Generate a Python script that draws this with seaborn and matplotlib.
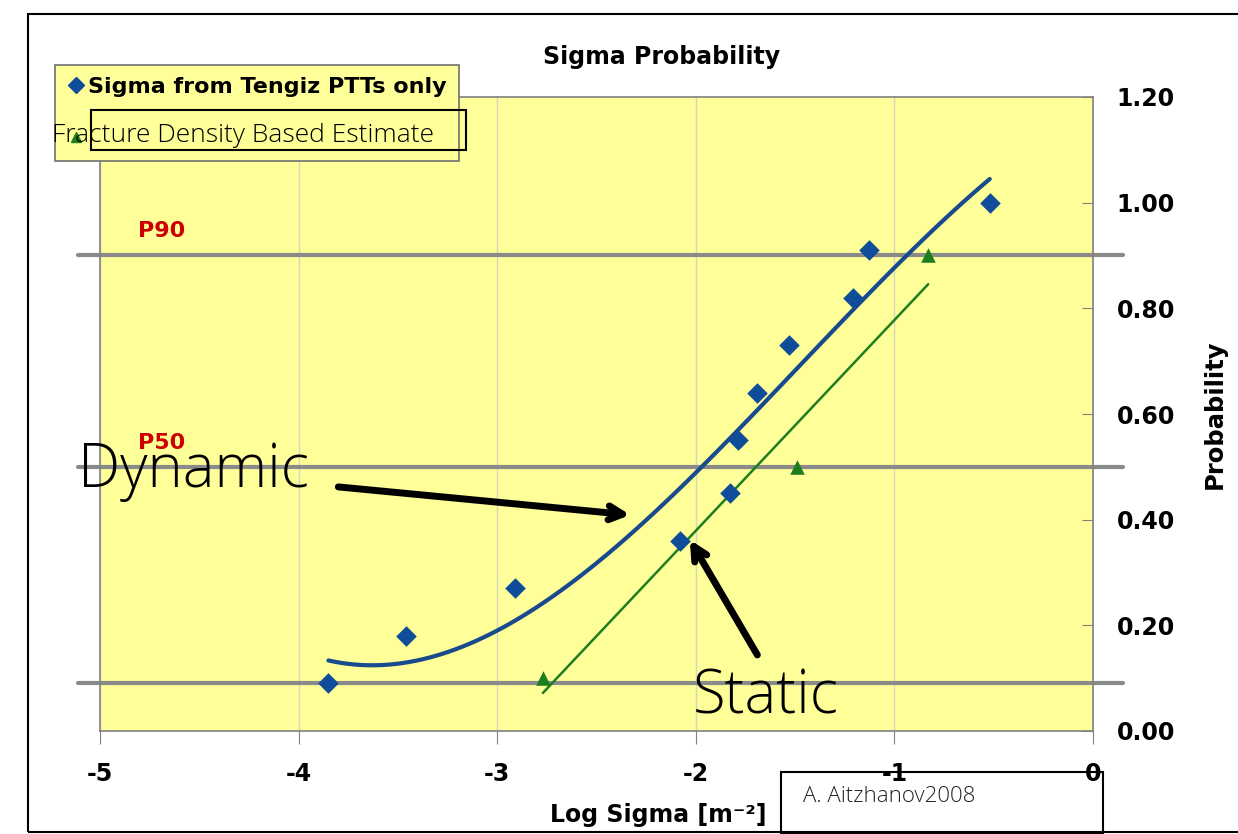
import numpy as np
import pandas as pd
import matplotlib
matplotlib.use("Agg")
import matplotlib.pyplot as plt
import seaborn as sns
from matplotlib.patches import Rectangle
from matplotlib.lines import Line2D

# ---- data ----
ptt_log_sigma = [-3.85, -3.46, -2.91, -2.08, -1.83, -1.79, -1.69, -1.53, -1.21, -1.13, -0.52]
ptt_prob = [0.09, 0.18, 0.27, 0.36, 0.45, 0.55, 0.64, 0.73, 0.82, 0.91, 1.00]
frac_log_sigma = [-2.77, -1.49, -0.83]
frac_prob = [0.10, 0.50, 0.90]
p_levels = [0.09, 0.50, 0.90]
p_names = ["P50", "P90"]
p_name_levels = [0.50, 0.90]
x_ticks = [-5, -4, -3, -2, -1, 0]
y_ticks = [0.0, 0.2, 0.4, 0.6, 0.8, 1.0, 1.2]

ptt = pd.DataFrame({"x": ptt_log_sigma, "y": ptt_prob})
frac = pd.DataFrame({"x": frac_log_sigma, "y": frac_prob})

sns.set_style("white")
plt.rcParams["font.family"] = ["DejaVu Sans"]
plt.rcParams["font.weight"] = "bold"
for k in ["text.color", "axes.labelcolor", "xtick.labelcolor", "ytick.labelcolor"]:
    plt.rcParams[k] = "black"

W, H = 1238, 834
fig = plt.figure(figsize=(W / 100, H / 100), dpi=100)
fig.patch.set_facecolor("white")
ax = fig.add_axes([100 / W, 1 - 731 / H, (1093 - 100) / W, (731 - 97) / H])
ax.set_facecolor("#FFFF99")

BLUE = "#0F4C9A"
CURVE = "#1A4A8E"
GREEN = "#1E7E1E"
GRAY = "#8A8A8A"

ax.set_xlim(-5, 0)
ax.set_ylim(0, 1.2)
ax.set_xticks(x_ticks)
ax.set_yticks(y_ticks)
ax.set_xticklabels([str(t) for t in x_ticks])
ax.set_yticklabels([f"{t:.2f}" for t in y_ticks])
ax.grid(axis="x", color="#D6D6BE", lw=1)
ax.grid(axis="y", visible=False)
ax.set_axisbelow(True)
for s in ax.spines.values():
    s.set_color("#808080")
    s.set_linewidth(1.2)

# probability levels
for lv in p_levels:
    ax.axhline(lv, xmin=-22 / 993, xmax=1 + 30 / 993, color=GRAY, lw=3, clip_on=False, zorder=2)
for name, lv in zip(p_names, p_name_levels):
    ax.text(-4.81, lv + 0.046, name, color="#CC0000", fontsize=16, fontweight="bold", va="center", ha="left")

# trend lines
sns.regplot(data=ptt, x="x", y="y", order=3, ci=None, scatter=False, truncate=True,
            line_kws=dict(color=CURVE, lw=3), ax=ax)
sns.regplot(data=frac, x="x", y="y", order=1, ci=None, scatter=False, truncate=True,
            line_kws=dict(color=GREEN, lw=1.8), ax=ax)

# points
sns.scatterplot(data=ptt, x="x", y="y", marker="D", s=110, color=BLUE, edgecolor=BLUE, linewidth=0, ax=ax, zorder=4)
sns.scatterplot(data=frac, x="x", y="y", marker="^", s=110, color=GREEN, edgecolor=GREEN, linewidth=0, ax=ax, zorder=4)

# axes ticks / labels
ax.yaxis.tick_right()
ax.yaxis.set_label_position("right")
ax.tick_params(axis="y", direction="in", length=8, color="#808080", pad=17, labelsize=17, right=True, left=False)
ax.tick_params(axis="x", direction="out", length=9, color="#808080", pad=13, labelsize=17, bottom=True)
ax.set_xlabel("Log Sigma [m⁻²]", fontsize=17, fontweight="bold")
ax.xaxis.set_label_coords((658 - 100) / 993, -(803 - 731) / 634)
ax.set_ylabel("Probability", fontsize=17.5, fontweight="bold", rotation=90)
ax.yaxis.set_label_coords((1203 - 100) / 993, 0.5)
ax.set_title("Sigma Probability", fontsize=17, fontweight="bold", x=(662 - 100) / 993, y=1 + 32 / 634, va="center")

# annotations
thin = dict(family=["Open Sans", "DejaVu Sans"], fontweight="light")
ax.text(-5.11, 0.462, "Dynamic", fontsize=43, color="black", ha="left", va="baseline", **thin)
ax.text(-2.014, 0.034, "Static", fontsize=43, color="black", ha="left", va="baseline", **thin)
ax.annotate("", xy=(-2.33, 0.409), xytext=(-3.80, 0.462),
            arrowprops=dict(arrowstyle="->,head_length=1.0,head_width=0.5", color="black", lw=5,
                            shrinkA=0, shrinkB=0, capstyle="round", joinstyle="round"))
ax.annotate("", xy=(-2.03, 0.362), xytext=(-1.69, 0.144),
            arrowprops=dict(arrowstyle="->,head_length=1.0,head_width=0.5", color="black", lw=5,
                            shrinkA=0, shrinkB=0, capstyle="round", joinstyle="round"))

# legend
handles = [Line2D([], [], marker="D", ls="none", color=BLUE, markersize=8),
           Line2D([], [], marker="^", ls="none", color=GREEN, markersize=7)]
leg = ax.legend(handles, ["Sigma from Tengiz PTTs only", " "], loc="upper left",
                bbox_to_anchor=(55 / W, 1 - 65 / H), bbox_transform=fig.transFigure,
                frameon=True, fancybox=False, facecolor="#FFFF99", edgecolor="#707070", framealpha=1,
                handlelength=0.8, handletextpad=0.15, borderaxespad=0, borderpad=0.55, labelspacing=1.4,
                prop=dict(size=16, weight="bold"))
leg.get_frame().set_linewidth(1.2)

fig.patches.append(Rectangle((91 / W, 1 - 150 / H), (466 - 91) / W, 40 / H, transform=fig.transFigure,
                             fill=False, edgecolor="black", lw=1.5, zorder=3))
fig.text(52 / W, 1 - 136 / H, "Fracture Density Based Estimate", fontsize=19, color="black",
         ha="left", va="center", zorder=4, **thin)

# author box
fig.patches.append(Rectangle((781 / W, 1 - 833 / H), (1103 - 781) / W, (833 - 772) / H, transform=fig.transFigure,
                             facecolor="white", edgecolor="black", lw=1.5, zorder=-1))
fig.text(803 / W, 1 - 797 / H, "A. Aitzhanov2008", fontsize=16, color="#222222", ha="left", va="center",
         **thin)

# outer frame
fig.patches.append(Rectangle((28 / W, 1 - 832 / H), 1.05, (832 - 14) / H, transform=fig.transFigure,
                             fill=False, edgecolor="black", lw=1.5, zorder=5))

fig.savefig("out.png", dpi=100)
